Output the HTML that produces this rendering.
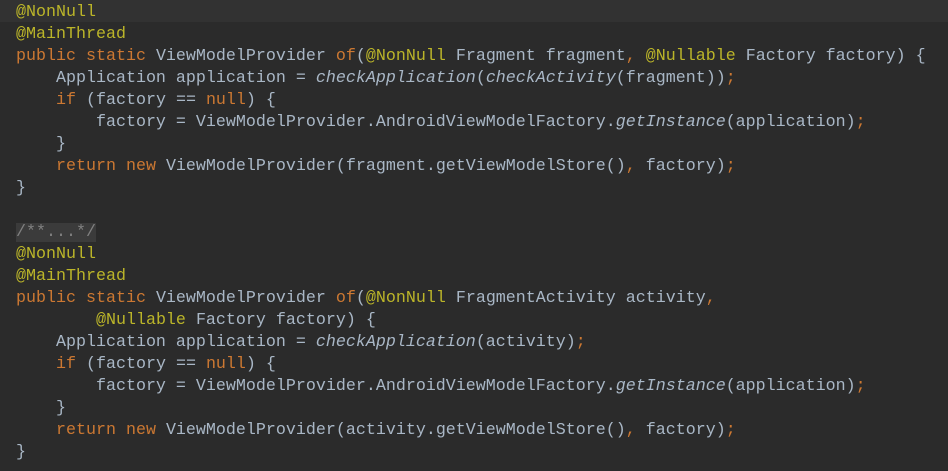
<!DOCTYPE html>
<html><head><meta charset="utf-8"><style>
html,body{margin:0;padding:0;background:#2b2b2b;width:948px;height:471px;overflow:hidden}
pre{margin:0;position:absolute;left:16px;top:2px;font-family:"Liberation Mono",monospace;font-size:16.67px;line-height:22px;color:#a9b7c6;white-space:pre}
.a{color:#bbb529}.k{color:#cc7832}.i{font-style:italic}
.f{color:#808080;background:#3b3b3b}
.hl{position:absolute;left:0;top:0;width:948px;height:22px;background:#323232}
</style></head><body>
<div class="hl"></div>
<pre><span class="a">@NonNull</span>
<span class="a">@MainThread</span>
<span class="k">public static </span>ViewModelProvider <span class="k">of</span>(<span class="a">@NonNull </span>Fragment fragment<span class="k">, </span><span class="a">@Nullable </span>Factory factory) {
    Application application = <span class="i">checkApplication</span>(<span class="i">checkActivity</span>(fragment))<span class="k">;</span>
    <span class="k">if </span>(factory == <span class="k">null</span>) {
        factory = ViewModelProvider.AndroidViewModelFactory.<span class="i">getInstance</span>(application)<span class="k">;</span>
    }
    <span class="k">return new </span>ViewModelProvider(fragment.getViewModelStore()<span class="k">, </span>factory)<span class="k">;</span>
}

<span class="f">/**...*/</span>
<span class="a">@NonNull</span>
<span class="a">@MainThread</span>
<span class="k">public static </span>ViewModelProvider <span class="k">of</span>(<span class="a">@NonNull </span>FragmentActivity activity<span class="k">,</span>
        <span class="a">@Nullable </span>Factory factory) {
    Application application = <span class="i">checkApplication</span>(activity)<span class="k">;</span>
    <span class="k">if </span>(factory == <span class="k">null</span>) {
        factory = ViewModelProvider.AndroidViewModelFactory.<span class="i">getInstance</span>(application)<span class="k">;</span>
    }
    <span class="k">return new </span>ViewModelProvider(activity.getViewModelStore()<span class="k">, </span>factory)<span class="k">;</span>
}</pre>
</body></html>
